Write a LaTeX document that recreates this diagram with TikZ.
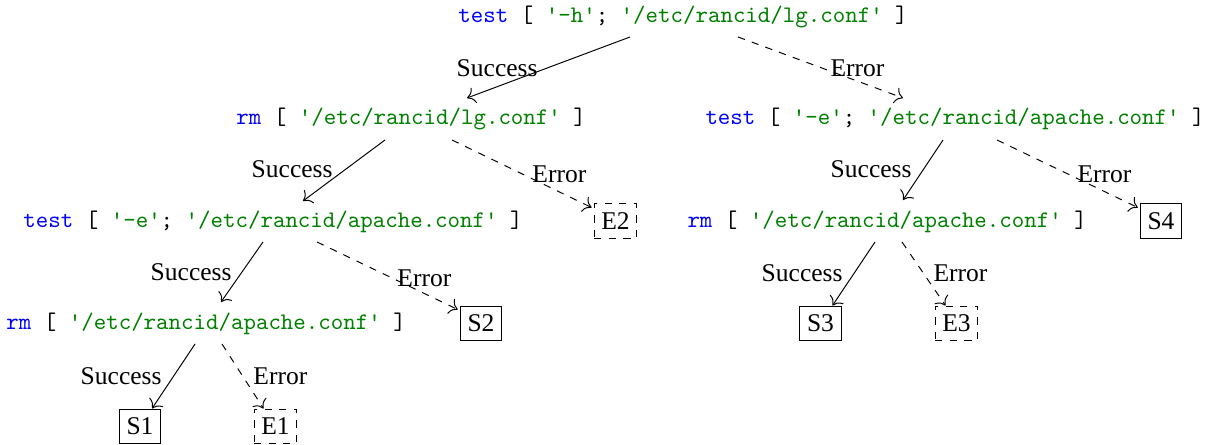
\documentclass[tikz,border=0pt]{standalone}
\usepackage{fontspec}
\setmainfont{Liberation Serif}
\usetikzlibrary{calc,arrows.meta}
\definecolor{kwblue}{RGB}{0,0,255}
\definecolor{strgreen}{RGB}{0,128,0}
\newcommand\kwd[1]{\textcolor{kwblue}{#1}}
\newcommand\strg[1]{\textcolor{strgreen}{#1}}
\newcommand\sq{\textquotesingle}
\tikzset{
  cmd/.style={inner sep=0pt, anchor=base west, font=\ttfamily\fontsize{9.78}{12}\selectfont},
  lbl/.style={inner sep=0pt, font=\fontsize{10.5}{12}\selectfont},
  okbox/.style={draw, inner sep=3pt, minimum height=14pt, font=\fontsize{10.5}{12}\selectfont},
  errbox/.style={okbox, dashed},
  okedge/.style={-{To[scale=1.3]}},
  erredge/.style={-{To[scale=1.3]}, dashed},
}
\begin{document}
\begin{tikzpicture}[x=0.4115pt, y=-0.4115pt]
\useasboundingbox (0,0) rectangle (1212,445);
% command nodes
\node[cmd] (t1) at (458,23) {\kwd{test} [ \strg{\sq-h\sq}; \strg{\sq/etc/rancid/lg.conf\sq} ]};
\node[cmd] (r1) at (236,125) {\kwd{rm} [ \strg{\sq/etc/rancid/lg.conf\sq} ]};
\node[cmd] (t2) at (705,125) {\kwd{test} [ \strg{\sq-e\sq}; \strg{\sq/etc/rancid/apache.conf\sq} ]};
\node[cmd] (t3) at (23,228) {\kwd{test} [ \strg{\sq-e\sq}; \strg{\sq/etc/rancid/apache.conf\sq} ]};
\node[cmd] (r3) at (687,228) {\kwd{rm} [ \strg{\sq/etc/rancid/apache.conf\sq} ]};
\node[cmd] (r4) at (6,330) {\kwd{rm} [ \strg{\sq/etc/rancid/apache.conf\sq} ]};
% result boxes
\node[errbox] (E2) at (615.5,221) {E2};
\node[okbox] (S4) at (1161,221) {S4};
\node[okbox] (S2) at (481,323) {S2};
\node[okbox] (S3) at (820.5,323) {S3};
\node[errbox] (E3) at (956.5,323) {E3};
\node[okbox] (S1) at (140,426) {S1};
\node[errbox] (E1) at (275.5,426) {E1};
% edges
\draw[okedge] ($(t1.base west)+(172,14)$) -- ($(r1.base west)+(231,-27)$);
\draw[erredge] ($(t1.base west)+(280,14)$) -- ($(t2.base west)+(198,-27)$);
\draw[okedge] ($(r1.base west)+(149,15)$) -- ($(t3.base west)+(280,-27)$);
\draw[erredge] ($(r1.base west)+(216,15)$) -- ($(E2.north west)+(-2,4)$);
\draw[okedge] ($(t2.base west)+(238,15)$) -- ($(r3.base west)+(216,-28)$);
\draw[erredge] ($(t2.base west)+(292,15)$) -- ($(S4.north west)+(-2,4)$);
\draw[okedge] ($(t3.base west)+(240,14)$) -- ($(r4.base west)+(215,-28)$);
\draw[erredge] ($(t3.base west)+(294,14)$) -- ($(S2.north west)+(-2,4)$);
\draw[okedge] ($(r3.base west)+(188,14)$) -- ($(S3.north)+(12,0)$);
\draw[erredge] ($(r3.base west)+(215,14)$) -- ($(E3.north)+(-11,0)$);
\draw[okedge] ($(r4.base west)+(189,14)$) -- ($(S1.north)+(12,0)$);
\draw[erredge] ($(r4.base west)+(216,14)$) -- ($(E1.north)+(-12,0)$);
% labels
\node[lbl, anchor=base east] (l1s) at (538,77) {Success};
\node[lbl, anchor=base west] (l1e) at (830,77) {Error};
\node[lbl, anchor=base east] (l2s) at (333,178) {Success};
\node[lbl, anchor=base west] (l2e) at (532,183) {Error};
\node[lbl, anchor=base east] (l3s) at (912,178) {Success};
\node[lbl, anchor=base west] (l3e) at (1077,183) {Error};
\node[lbl, anchor=base east] (l4s) at (232,281) {Success};
\node[lbl, anchor=base west] (l4e) at (397,287) {Error};
\node[lbl, anchor=base east] (l5s) at (843,282) {Success};
\node[lbl, anchor=base west] (l5e) at (933,282) {Error};
\node[lbl, anchor=base east] (l6s) at (162,385) {Success};
\node[lbl, anchor=base west] (l6e) at (253,385) {Error};
\end{tikzpicture}
\end{document}
